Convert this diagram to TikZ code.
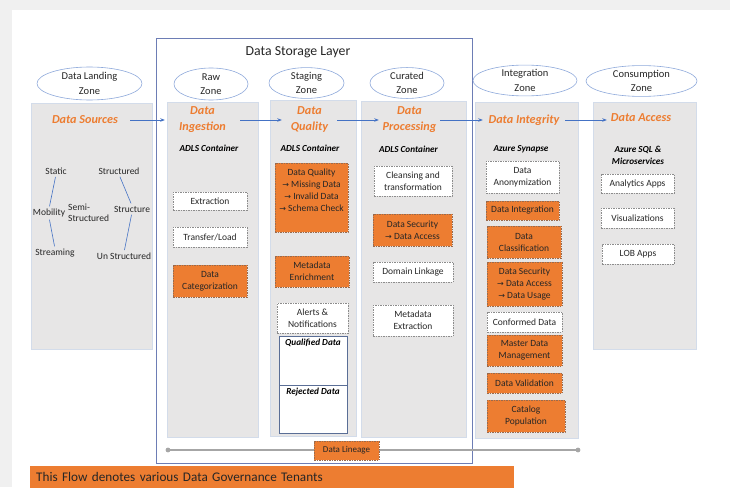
\documentclass[tikz,border=0pt]{standalone}
\usepackage{fontspec}
\setmainfont{Carlito}
\newfontfamily\symf{DejaVu Sans}
\usetikzlibrary{shapes.geometric,arrows.meta,calc}
\definecolor{bgGray}{HTML}{F0F0F0}
\definecolor{panelGray}{HTML}{E7E6E6}
\definecolor{panelBorder}{HTML}{D3DCEA}
\definecolor{orangeC}{HTML}{ED7D31}
\definecolor{orangeDark}{HTML}{9A6A4C}
\definecolor{dashGray}{HTML}{8C8C8C}
\definecolor{zoneBlue}{HTML}{8EA9DB}
\definecolor{storeBlue}{HTML}{6D7DB5}
\definecolor{arrowBlue}{HTML}{4472C4}
\definecolor{lineGray}{HTML}{A6A6A6}
\definecolor{qualBorder}{HTML}{5A6E96}
\definecolor{txt}{HTML}{262626}
\newcommand{\rarr}{{\symf\fontsize{8}{12}\selectfont →}}
\begin{document}
\begin{tikzpicture}[x=1pt,y=-1pt,
 panel/.style={draw=panelBorder, fill=panelGray, line width=0.6pt, inner sep=0, anchor=north west},
 zone/.style={ellipse, draw=zoneBlue, fill=white, line width=0.6pt, inner sep=0, align=center, font=\fontsize{10.5}{14.5}\selectfont, text=txt},
 ttl/.style={font=\fontsize{12.2}{16}\selectfont\bfseries\itshape, text=orangeC, align=center, inner sep=0},
 sub/.style={font=\fontsize{9.2}{12}\selectfont\bfseries\itshape, text=black, align=center, inner sep=0},
 dbox/.style={draw=dashGray, dash pattern=on 1.5pt off 1pt, fill=white, line width=0.6pt, inner sep=0, align=center, font=\fontsize{9.5}{12}\selectfont, text=txt},
 obox/.style={dbox, fill=orangeC, draw=orangeDark},
 qbox/.style={draw=qualBorder, fill=white, line width=1pt, inner sep=0},
 item/.style={font=\fontsize{9.5}{11.5}\selectfont, text=txt, inner sep=0, align=center},
 flow/.style={draw=arrowBlue, line width=0.7pt, -{Stealth[length=4.5pt,width=3.5pt]}},
 tie/.style={draw=arrowBlue, line width=0.6pt, shorten <=2.5pt, shorten >=2.5pt},
]
\useasboundingbox (0,0) rectangle (730,487);
\fill[bgGray] (0,0) rectangle (730,487);
\fill[white] (12,10) rectangle (730,487);

% storage layer frame
\draw[storeBlue, line width=0.8pt] (156,38) rectangle (472,463);
\node[font=\fontsize{13.8}{16}\selectfont, text=txt] (store) at (298,52) {Data Storage Layer};

% panels
\node[panel, minimum width=121, minimum height=246] (pLand) at (31,103) {};
\node[panel, minimum width=91, minimum height=335] (pRaw) at (167,102) {};
\node[panel, minimum width=86, minimum height=336] (pStage) at (270,100) {};
\node[panel, minimum width=105, minimum height=336] (pCur) at (361,101) {};
\node[panel, minimum width=103, minimum height=336] (pInt) at (475,102) {};
\node[panel, minimum width=103, minimum height=247] (pCons) at (593,102) {};

% zone ellipses
\node[zone, minimum width=105, minimum height=33] (zLand) at (89.5,83.5) {Data Landing\\Zone};
\node[zone, minimum width=74, minimum height=32] (zRaw) at (211,84) {Raw\\Zone};
\node[zone, minimum width=75, minimum height=30] (zStage) at (306.5,83) {Staging\\Zone};
\node[zone, minimum width=74, minimum height=30] (zCur) at (407,83) {Curated\\Zone};
\node[zone, minimum width=104, minimum height=29] (zInt) at (525,80.5) {Integration\\Zone};
\node[zone, minimum width=111, minimum height=30] (zCons) at (641.5,81) {Consumption\\Zone};

% titles
\node[ttl, minimum width=90] (srcT) at (85,120) {Data Sources};
\node[ttl, minimum width=75] (ingT) at (202.5,120) {Data\\Ingestion};
\node[ttl, minimum width=55] (qualT) at (309.5,120) {Data\\Quality};
\node[ttl, minimum width=61] (procT) at (409.5,120) {Data\\Processing};
\node[ttl, minimum width=82] (intT) at (524,120) {Data Integrity};
\node[ttl, minimum width=68] (accT) at (641,118) {Data Access};

\draw[flow] (srcT.east) -- (ingT.west);
\draw[flow] (ingT.east) -- (qualT.west);
\draw[flow] (qualT.east) -- (procT.west);
\draw[flow] (procT.east) -- (intT.west);
\draw[flow] (intT.east) -- (intT.east -| accT.west);

% sub headers
\node[sub] (rawS) at (209,148) {ADLS Container};
\node[sub] (stS) at (310,148) {ADLS Container};
\node[sub] (curS) at (408.5,149) {ADLS Container};
\node[sub] (intS) at (521,149) {Azure Synapse};
\node[sub] (conS) at (638,155) {Azure SQL \&\\Microservices};

% landing items
\node[item] (static) at (56,171) {Static};
\node[item] (structd) at (119,171) {Structured};
\node[item] (mob) at (49,213) {Mobility};
\node[item, anchor=west, align=left] (semi) at (68,213) {Semi-\\Structured};
\node[item] (structure) at (132,209) {Structure};
\node[item] (stream) at (55,253) {Streaming};
\node[item] (unstr) at (124,256) {Un Structured};
\draw[tie] (static.south) -- (mob.north);
\draw[tie] (mob.south) -- (stream.north);
\draw[tie] (structd.south) -- (structure.north);
\draw[tie] (structure.south) -- (unstr.north);

% raw zone boxes
\node[dbox, minimum width=74, minimum height=18] (ext) at (210,201) {Extraction};
\node[dbox, minimum width=74, minimum height=20] (tl) at (210,237) {Transfer/Load};
\node[obox, minimum width=74, minimum height=32] (cat) at (210,281) {Data\\Categorization};

% staging boxes
\node[obox, minimum width=73, minimum height=69] (dq) at (311.5,197.5) {Data Quality\\\rarr\ Missing Data\\\rarr\ Invalid Data\\\rarr\ Schema Check\\[0pt]\strut};
\node[obox, minimum width=74, minimum height=31] (meta) at (312,271.5) {Metadata\\Enrichment};
\node[dbox, minimum width=71, minimum height=30] (alert) at (312.5,318) {Alerts \&\\Notifications};
\node[qbox, minimum width=68, minimum height=49, label={[sub, anchor=north]north:\rule{0pt}{10pt}Qualified Data}] (qual) at (313,360.5) {};
\node[qbox, minimum width=68, minimum height=48, label={[sub, anchor=north]north:\rule{0pt}{10pt}Rejected Data}] (rej) at (313,409) {};

% curated boxes
\node[dbox, minimum width=78, minimum height=30] (clean) at (413,181) {Cleansing and\\transformation};
\node[obox, minimum width=79, minimum height=32] (sec1) at (412.5,230) {Data Security\\\rarr\ Data Access};
\node[dbox, minimum width=80, minimum height=20] (dom) at (413,272) {Domain Linkage};
\node[dbox, minimum width=80, minimum height=31] (mext) at (413,320.5) {Metadata\\Extraction};

% integration boxes
\node[dbox, minimum width=73, minimum height=32] (anon) at (522.5,177) {Data\\Anonymization};
\node[obox, minimum width=73, minimum height=19] (dint) at (522.5,210.5) {Data Integration};
\node[obox, minimum width=74, minimum height=32] (dcls) at (524,242) {Data\\Classification};
\node[obox, minimum width=75, minimum height=44] (sec2) at (524.5,284) {Data Security\\\rarr\ Data Access\\\rarr\ Data Usage};
\node[dbox, minimum width=75, minimum height=20] (conf) at (524.5,322) {Conformed Data};
\node[obox, minimum width=75, minimum height=31] (mdm) at (524.5,350.5) {Master Data\\Management};
\node[obox, minimum width=75, minimum height=20] (dval) at (524.5,383) {Data Validation};
\node[obox, minimum width=78, minimum height=32] (catp) at (526,416) {Catalog\\Population};

% consumption boxes
\node[dbox, minimum width=73, minimum height=19] (ana) at (637.5,183.5) {Analytics Apps};
\node[dbox, minimum width=73, minimum height=20] (vis) at (637.5,218) {Visualizations};
\node[dbox, minimum width=72, minimum height=20] (lob) at (638,254) {LOB Apps};

% data lineage
\coordinate (dlL) at (168,450);
\coordinate (dlR) at (578,450);
\draw[lineGray, line width=1.3pt] (dlL) -- (dlR);
\fill[lineGray] (dlL) circle (2.4);
\fill[lineGray] (dlR) circle (2.4);
\node[obox, minimum width=65, minimum height=19, font=\fontsize{9}{10}\selectfont] (lin) at (346.5,450.5) {Data Lineage};

% bottom banner
\node[fill=orangeC, anchor=north west, minimum width=484, minimum height=22, text width=472, align=left, inner xsep=6, inner ysep=0, font=\fontsize{13.2}{16}\selectfont, text=txt] (banner) at (30,466) {This Flow denotes various Data Governance Tenants};
\end{tikzpicture}
\end{document}
